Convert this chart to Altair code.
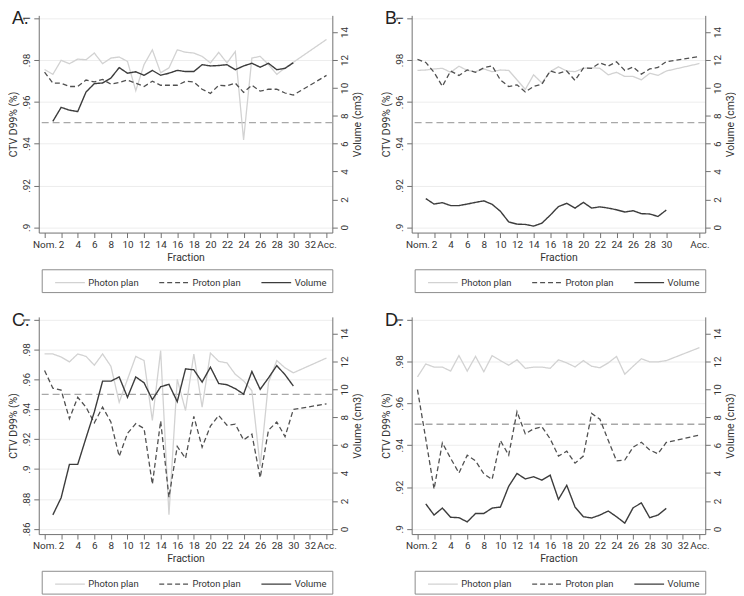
import altair as alt
import pandas as pd

# ---------------- data ----------------
FRAC_PLAN = list(range(0, 31)) + [34]          # Nom.=0, fractions 1..30, Acc.=34
FRAC_VOL = list(range(1, 31))
SERIES = ["Photon plan", "Proton plan", "Volume"]
REF_LINE = [0.95]
VOL_MAX = 15
VOL_TICKS = [0, 2, 4, 6, 8, 10, 12, 14]
X_TICKS_FULL = [0, 2, 4, 6, 8, 10, 12, 14, 16, 18, 20, 22, 24, 26, 28, 30, 32, 34]
X_TICKS_B = [0, 2, 4, 6, 8, 10, 12, 14, 16, 18, 20, 22, 24, 26, 28, 30, 34]
X_NOM_LABEL = "Nom."
X_ACC_LABEL = "Acc."

A_PHOTON = [.9754, .9731, .9798, .9782, .9804, .9801, .9833, .9782, .9809, .9814, .9793,
            .9653, .9778, .9848, .9739, .9762, .9848, .9837, .9833, .9817, .9786, .9836,
            .9786, .9840, .9418, .9809, .9817, .9778, .9731, .9762, .9789, .9898]
A_PROTON = [.9742, .9689, .9689, .9673, .9673, .9704, .9695, .9707, .9684, .9692, .9704,
            .9689, .9673, .9698, .9679, .9679, .9679, .9698, .9695, .9660, .9640, .9679,
            .9676, .9689, .9645, .9679, .9651, .9660, .9660, .9642, .9632, .9726]
A_VOLUME = [7.6, 8.6, 8.4, 8.3, 9.7, 10.3, 10.35, 10.7, 11.45, 11.05, 11.15, 10.9, 11.25,
            10.9, 11.05, 11.25, 11.17, 11.17, 11.66, 11.57, 11.6, 11.66, 11.3, 11.57, 11.76,
            11.48, 11.76, 11.3, 11.4, 11.8]

B_PHOTON = [.9750, .9752, .9757, .9760, .9741, .9770, .9750, .9744, .9757, .9744, .9752,
            .9750, .9705, .9659, .9729, .9690, .9744, .9767, .9747, .9744, .9760, .9763,
            .9760, .9729, .9741, .9721, .9721, .9705, .9736, .9726, .9747, .9783]
B_PROTON = [.9803, .9788, .9741, .9674, .9747, .9726, .9752, .9741, .9763, .9772, .9704,
            .9673, .9681, .9647, .9673, .9684, .9747, .9736, .9747, .9702, .9761, .9760,
            .9786, .9771, .9791, .9750, .9766, .9732, .9757, .9764, .9792, .9816]
B_VOLUME = [2.06, 1.67, 1.77, 1.56, 1.56, 1.67, 1.79, 1.9, 1.65, 1.15, 0.39, 0.23, 0.21,
            0.09, 0.30, 0.87, 1.49, 1.72, 1.38, 1.79, 1.38, 1.47, 1.38, 1.26, 1.1, 1.19,
            0.98, 0.96, 0.78, 1.24]

C_PHOTON = [.9770, .9770, .9750, .9717, .9770, .9754, .9695, .9770, .9688, .9447, .9600,
            .9754, .9726, .9326, .9792, .8694, .9600, .9392, .9770, .9414, .9776, .9721,
            .9710, .9634, .9590, .9524, .9019, .9579, .9726, .9677, .9644, .9743]
C_PROTON = [.9660, .9541, .9528, .9337, .9480, .9414, .9309, .9414, .9315, .9085, .9239,
            .9304, .9271, .8898, .9322, .8811, .9151, .9072, .9353, .9146, .9287, .9359,
            .9293, .9300, .9195, .9234, .8942, .9260, .9315, .9217, .9399, .9436]
C_VOLUME = [1.0, 2.23, 4.62, 4.62, 6.52, 8.38, 10.59, 10.59, 10.89, 9.43, 10.89, 10.47,
            9.26, 10.19, 10.36, 9.12, 11.47, 11.4, 10.52, 11.59, 10.42, 10.33, 10.05, 9.66,
            11.28, 10.0, 10.82, 11.7, 11.05, 10.24]

D_PHOTON = [.9726, .9788, .9773, .9773, .9754, .9828, .9754, .9824, .9751, .9828, .9804,
            .9782, .9808, .9767, .9773, .9773, .9767, .9808, .9793, .9774, .9804, .9777,
            .9770, .9793, .9824, .9739, .9777, .9813, .9798, .9798, .9804, .9866]
D_PROTON = [.9665, .9430, .9190, .9411, .9337, .9267, .9352, .9325, .9263, .9236, .9422,
            .9352, .9560, .9454, .9478, .9488, .9430, .9348, .9371, .9314, .9348, .9552,
            .9524, .9423, .9325, .9329, .9390, .9414, .9377, .9359, .9413, .9448]
D_VOLUME = [1.79, 0.99, 1.49, 0.83, 0.8, 0.5, 1.1, 1.1, 1.49, 1.56, 3.05, 3.97, 3.58,
            3.74, 3.49, 3.85, 2.11, 3.12, 1.56, 0.87, 0.78, 0.99, 1.28, 0.87, 0.41, 1.51,
            1.86, 0.8, 0.99, 1.47]

# ---------------- style ----------------
FONT = "Liberation Sans Narrow, Roboto, Liberation Sans, Arial, sans-serif"
COLORS = ["#d2d2d2", "#505050", "#3c3c3c"]
DASHES = [[1, 0], [5, 3], [1, 0]]
W, H = 296, 219


def panel(letter, photon, proton, volume, ylo, xticks):
    R = 1.0 - ylo
    ydom = [ylo - 0.025 * R, 1.0 + 0.013 * R]
    vdom = [(d - ylo) / R * VOL_MAX for d in ydom]
    n_ticks = int(round(R / 0.02)) + 1
    yticks = [round(ylo + 0.02 * i, 2) for i in range(n_ticks)]

    plan = pd.DataFrame({
        "frac": FRAC_PLAN * 2,
        "value": photon + proton,
        "series": [SERIES[0]] * len(FRAC_PLAN) + [SERIES[1]] * len(FRAC_PLAN),
    })
    vol = pd.DataFrame({"frac": FRAC_VOL, "vol": volume, "series": [SERIES[2]] * len(FRAC_VOL)})
    ref = pd.DataFrame({"value": REF_LINE})
    lab = pd.DataFrame({"t": [letter]})

    xenc = alt.X(
        "frac:Q",
        scale=alt.Scale(domain=[-0.7, 34.7], nice=False, zero=False),
        axis=alt.Axis(
            values=xticks, title="Fraction", grid=False, tickSize=5, labelPadding=2,
            titlePadding=3, labelOverlap=False, labelFlush=False,
            labelExpr=f"datum.value == 0 ? '{X_NOM_LABEL}' : (datum.value == 34 ? '{X_ACC_LABEL}' : datum.label)",
        ),
    )
    left_axis = alt.Axis(
        title="CTV D99% (%)", values=yticks, grid=True, gridColor="#ededed",
        tickSize=5, labelAngle=270, labelAlign="center", labelBaseline="bottom",
        labelPadding=2, titlePadding=3, labelOverlap=False, labelFlush=False,
        labelExpr="substring(format(datum.value, '.2~f'), datum.value < 1 ? 1 : 0)",
    )
    yl = alt.Y("value:Q", scale=alt.Scale(domain=ydom, nice=False, zero=False), axis=left_axis)
    leg = alt.Legend(
        orient="none", legendX=3, legendY=H + 37, direction="horizontal", title=None,
        strokeColor="#8c8c8c", fillColor="white", padding=5, columnPadding=12,
        symbolType="M0,0H4", symbolSize=225, symbolStrokeWidth=1.3, labelFontSize=9.5,
        labelOffset=25, labelColor="#333333", labelFont=FONT,
    )
    color = alt.Color("series:N", scale=alt.Scale(domain=SERIES, range=COLORS), legend=leg)
    dash = alt.StrokeDash("series:N", scale=alt.Scale(domain=SERIES, range=DASHES), legend=leg)

    rule = alt.Chart(ref).mark_rule(color="#a8a8a8", strokeDash=[7, 4], strokeWidth=1.3).encode(y=yl)
    lines = alt.Chart(plan).mark_line(strokeWidth=1.3).encode(
        x=xenc, y=yl, color=color, strokeDash=dash
    )
    vline = alt.Chart(vol).mark_line(strokeWidth=1.4).encode(
        x=xenc,
        y=alt.Y(
            "vol:Q",
            scale=alt.Scale(domain=vdom, nice=False, zero=False),
            axis=alt.Axis(
                orient="right", title="Volume (cm3)", values=VOL_TICKS, grid=False,
                tickSize=5, labelAngle=270, labelAlign="center", labelBaseline="top",
                labelPadding=2, titleAngle=270, titleBaseline="top", titlePadding=3,
                labelOverlap=False, labelFlush=False,
            ),
        ),
        color=color,
        strokeDash=dash,
    )
    letter_mark = alt.Chart(lab).mark_text(
        align="left", baseline="top", fontSize=18, color="#222222", font="Liberation Sans"
    ).encode(text="t:N", x=alt.value(-27), y=alt.value(-5))

    return (
        alt.layer(alt.layer(rule, lines), vline, letter_mark)
        .resolve_scale(y="independent")
        .properties(width=W, height=H)
    )


pA = panel("A.", A_PHOTON, A_PROTON, A_VOLUME, 0.90, X_TICKS_FULL)
pB = panel("B.", B_PHOTON, B_PROTON, B_VOLUME, 0.90, X_TICKS_B)
pC = panel("C.", C_PHOTON, C_PROTON, C_VOLUME, 0.86, X_TICKS_FULL)
pD = panel("D.", D_PHOTON, D_PROTON, D_VOLUME, 0.90, X_TICKS_FULL)

RES = dict(x="independent", y="independent", color="independent", strokeDash="independent")

row1 = alt.hconcat(pA, pB, spacing=19).resolve_scale(**RES).resolve_legend(color="independent", strokeDash="independent")
row2 = alt.hconcat(pC, pD, spacing=19).resolve_scale(**RES).resolve_legend(color="independent", strokeDash="independent")

chart = (
    alt.vconcat(row1, row2, spacing=19)
    .resolve_scale(**RES)
    .resolve_legend(color="independent", strokeDash="independent")
    .properties(padding={"left": 0, "top": 0, "right": 0, "bottom": 0})
    .configure_view(strokeWidth=0)
    .configure_axis(
        domainColor="#707070", tickColor="#707070", labelColor="#333333",
        titleColor="#333333", labelFont=FONT, titleFont=FONT, labelFontSize=10,
        titleFontSize=10.5, titleFontWeight="normal",
    )
)

chart.save("out.html", embed_options={"renderer": "svg", "actions": False})
